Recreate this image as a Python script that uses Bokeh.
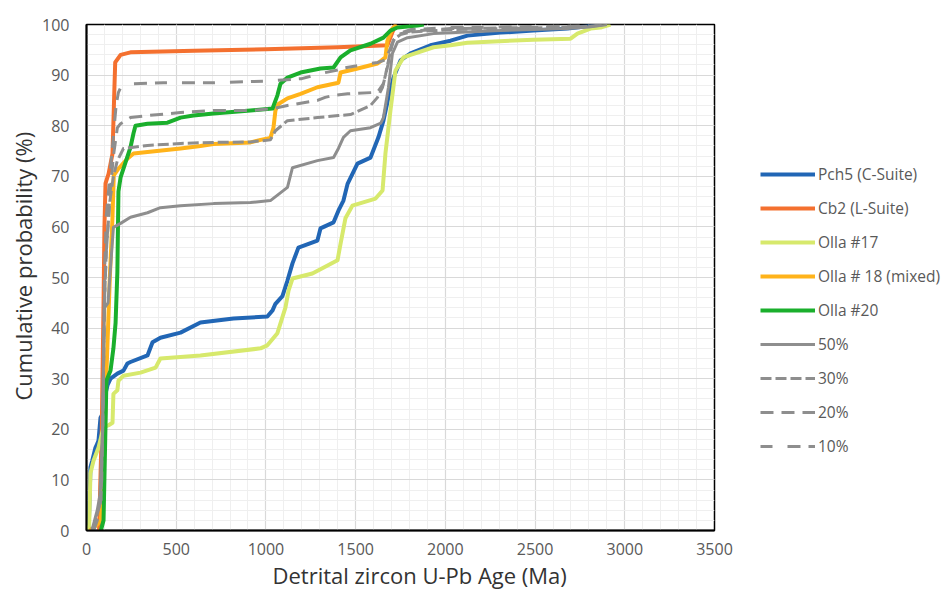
import math
from bokeh.plotting import figure
from bokeh.layouts import row
from bokeh.models import (SingleIntervalTicker, Range1d, Legend, LegendItem, Title, ColumnDataSource)
from bokeh.embed import file_html
from bokeh.resources import INLINE

# ---------------- data ----------------
pch5_age = [12, 22, 32, 50, 61, 67, 78, 89, 97, 117, 134, 172, 206, 228, 245, 340, 368, 412, 524, 635, 819,
            1008, 1037, 1053, 1092, 1120, 1148, 1181, 1287, 1304, 1377, 1404, 1432, 1455, 1510, 1583, 1627,
            1655, 1683, 1711, 1750, 1806, 1917, 2029, 2123, 2307, 2491, 2681, 2826, 2850]
pch5_pct = [0, 12.5, 13.8, 16.4, 17.2, 17.8, 22.3, 23, 25.7, 28.7, 30, 31, 31.6, 33, 33.3, 34.6, 37.2, 38.1,
            39.1, 41.1, 41.9, 42.3, 43.5, 44.8, 46.3, 49.4, 52.8, 55.9, 57.3, 59.7, 60.9, 63.2, 65.2, 68.5,
            72.5, 73.7, 77.7, 81, 85.6, 89.5, 92.9, 94.3, 95.9, 96.8, 97.8, 98.4, 98.8, 99.2, 99.8, 100]

cb2_age = [70, 85, 95, 100, 106, 123, 145, 156, 160, 190, 245, 600, 1000, 1400, 1677, 1700, 1722]
cb2_pct = [0, 20, 45, 60, 68.6, 70.5, 74.5, 88, 92.5, 94, 94.5, 94.8, 95.1, 95.5, 95.9, 98, 100]

olla17_age = [5, 15, 22, 39, 67, 95, 123, 145, 150, 172, 178, 206, 301, 385, 412, 635, 970, 1008, 1064, 1109,
              1126, 1148, 1259, 1399, 1416, 1443, 1482, 1611, 1650, 1666, 1694, 1722, 1767, 1806, 1934, 2029,
              2123, 2491, 2698, 2736, 2809, 2865, 2920]
olla17_pct = [0, 1, 11.3, 13.8, 16.4, 20.4, 20.8, 21.3, 27, 27.7, 29.6, 30.6, 31.2, 32.2, 34, 34.6, 36, 36.6,
              39, 44.1, 47.4, 49.8, 50.8, 53.4, 56.7, 61.7, 64.2, 65.6, 67.2, 74.5, 83, 90.9, 93.5, 94, 95.5,
              95.9, 96.4, 97, 97.2, 98.2, 99.2, 99.4, 100]

olla18_age = [20, 40, 60, 80, 95, 110, 130, 145, 152, 178, 228, 262, 340, 524, 635, 708, 914, 970, 1025, 1042,
              1053, 1070, 1120, 1193, 1287, 1404, 1416, 1500, 1622, 1666, 1677, 1705, 1730]
olla18_pct = [0, 0.6, 1.2, 2, 10, 30, 50, 62, 70.2, 71.5, 73.5, 74.5, 74.8, 75.5, 76, 76.4, 76.7, 77.2, 77.6,
              79.6, 83, 84.3, 85.4, 86.3, 87.6, 88.5, 90.5, 91.2, 92.3, 93.5, 96.8, 99.2, 100]

olla20_age = [80, 95, 111, 134, 150, 162, 172, 178, 190, 245, 262, 273, 340, 451, 524, 596, 708, 914, 1037,
              1064, 1081, 1120, 1193, 1304, 1377, 1416, 1471, 1583, 1655, 1694, 1733, 1845, 1880]
olla20_pct = [0, 2, 29.6, 31.6, 36, 41, 51, 67, 69.8, 75.7, 78.5, 80, 80.4, 80.6, 81.6, 82, 82.4, 83, 83.4,
              86, 88.3, 89.5, 90.5, 91.3, 91.5, 93.5, 94.9, 96.2, 97.4, 98.8, 99.4, 99.8, 100]

mix50_age = [30, 45, 60, 75, 90, 95, 100, 120, 140, 150, 190, 245, 340, 412, 524, 708, 914, 1025, 1120, 1148,
             1287, 1377, 1404, 1432, 1471, 1583, 1640, 1655, 1683, 1705, 1733, 1789, 1934, 2307, 2681, 2800, 2900]
mix50_pct = [0, 2, 4, 7, 20, 35, 44, 45, 55, 59.9, 60.7, 61.9, 62.8, 63.8, 64.2, 64.6, 64.8, 65.2, 67.8, 71.7,
             73.1, 73.7, 75.5, 77.7, 79, 79.6, 80.5, 81.6, 87.6, 94.3, 96.5, 97.4, 98.2, 98.8, 99.2, 99.5, 100]

mix30_age = [35, 50, 65, 80, 90, 100, 110, 130, 150, 172, 206, 340, 524, 708, 914, 1025, 1053, 1120, 1287, 1404,
             1471, 1583, 1622, 1650, 1666, 1690, 1711, 1750, 1806, 2029, 2491, 2800, 2900]
mix30_pct = [0, 2, 4, 6, 20, 45, 55, 65, 70, 73.1, 75.5, 76.1, 76.5, 76.7, 76.8, 77.2, 79, 81, 81.6, 82,
             82.2, 84, 85.6, 87.6, 90, 94, 97, 98, 98.5, 99, 99.3, 99.6, 100]

mix20_age = [35, 50, 65, 80, 90, 100, 110, 130, 150, 172, 190, 245, 340, 524, 708, 914, 1042, 1120, 1287, 1330,
             1377, 1455, 1622, 1655, 1680, 1700, 1730, 1806, 2029, 2491, 2800, 2900]
mix20_pct = [0, 2, 4, 6, 20, 45, 55, 66, 74, 79.6, 80.4, 81.6, 82, 82.6, 83, 83, 83.4, 84, 85, 85.6,
             86, 86.3, 86.6, 88.3, 92, 96, 98, 98.7, 99.2, 99.4, 99.7, 100]

mix10_age = [40, 60, 75, 85, 95, 100, 110, 130, 150, 165, 178, 190, 256, 429, 708, 1000, 1200, 1290, 1400, 1416,
             1500, 1622, 1666, 1690, 1720, 1750, 1806, 2029, 2491, 2800, 2900]
mix10_pct = [0, 2, 4, 10, 30, 50, 62, 70, 78, 84, 86.6, 87.5, 88.3, 88.5, 88.5, 88.8, 89.3, 90.2, 91, 91.3,
             91.8, 92.5, 93, 95, 97.4, 98.3, 99, 99.4, 99.6, 99.8, 100]

series_names = ["Pch5 (C-Suite)", "Cb2 (L-Suite)", "Olla #17", "Olla # 18 (mixed)", "Olla #20",
                "50%", "30%", "20%", "10%"]
x_title = "Detrital zircon U-Pb Age (Ma)"
y_title = "Cumulative probability (%)"

# ---------------- styles ----------------
styles = [
    dict(color="#2166B5", width=4, dash="solid"),
    dict(color="#F4702F", width=4, dash="solid"),
    dict(color="#D7E96C", width=4, dash="solid"),
    dict(color="#FFB31A", width=4, dash="solid"),
    dict(color="#1AAF2C", width=4, dash="solid"),
    dict(color="#8E8E8E", width=3, dash="solid"),
    dict(color="#8E8E8E", width=3, dash="11 4"),
    dict(color="#8E8E8E", width=3, dash="13 8"),
    dict(color="#8E8E8E", width=3, dash="12 15 13 8"),
]
data = [(pch5_age, pch5_pct), (cb2_age, cb2_pct), (olla17_age, olla17_pct), (olla18_age, olla18_pct),
        (olla20_age, olla20_pct), (mix50_age, mix50_pct), (mix30_age, mix30_pct), (mix20_age, mix20_pct),
        (mix10_age, mix10_pct)]
sources = [ColumnDataSource(dict(age=xs, pct=ys)) for xs, ys in data]

MAIN_W = 734
p = figure(width=MAIN_W, height=594, output_backend="svg", toolbar_location=None,
           x_range=Range1d(0, 3500), y_range=Range1d(0, 100),
           min_border_left=86, min_border_right=MAIN_W - 714, min_border_top=24, min_border_bottom=64)
p.background_fill_color = "white"
p.border_fill_color = "white"
p.outline_line_color = "black"
p.outline_line_width = 1.5

p.xaxis.ticker = SingleIntervalTicker(interval=500, num_minor_ticks=5)
p.yaxis.ticker = SingleIntervalTicker(interval=10, num_minor_ticks=5)
for ax in (p.xaxis, p.yaxis):
    ax.axis_line_color = "black"
    ax.axis_line_width = 2
    ax.major_tick_out = 0
    ax.major_tick_in = 0
    ax.minor_tick_out = 0
    ax.minor_tick_in = 0
    ax.major_label_text_font = "Open Sans"
    ax.major_label_text_font_size = "16px"
    ax.major_label_text_color = "#595959"
p.xaxis.major_label_standoff = 12
p.yaxis.major_label_standoff = 17

for g in (p.xgrid, p.ygrid):
    g.grid_line_color = "#D9D9D9"
    g.grid_line_width = 1.2
    g.minor_grid_line_color = "#EFEFEF"
    g.minor_grid_line_width = 1

for src, st in zip(sources, styles):
    p.line("age", "pct", source=src, line_color=st["color"], line_width=st["width"],
           line_dash=st["dash"], line_join="round", line_cap="butt")

# axis titles as Title annotations, positioned like the reference
p.add_layout(Title(text=x_title, align="left", offset=186, standoff=0, text_font="Open Sans",
                   text_font_size="22px", text_font_style="normal", text_color="#333333"), "below")
p.add_layout(Title(text=y_title, align="left", offset=130, standoff=4, text_font="Open Sans",
                   text_font_size="22px", text_font_style="normal", text_color="#333333"), "left")

# ---------------- legend panel (separate figure to the right) ----------------
# same series drawn again, with ranges that keep them out of view: only the legend shows
p2 = figure(width=948 - MAIN_W, height=594, output_backend="svg", toolbar_location=None,
            x_range=Range1d(-20, -10), y_range=Range1d(-20, -10),
            x_axis_location=None, y_axis_location=None,
            min_border_left=0, min_border_right=0, min_border_top=0, min_border_bottom=0)
p2.outline_line_color = None
p2.xgrid.visible = False
p2.ygrid.visible = False
p2.background_fill_color = "white"
p2.border_fill_color = "white"

items = []
for name, src, st in zip(series_names, sources, styles):
    r2 = p2.line("age", "pct", source=src, line_color=st["color"], line_width=st["width"],
                 line_dash=st["dash"])
    items.append(LegendItem(label=name, renderers=[r2]))

legend = Legend(items=items, location=(26, 73), orientation="vertical",
                glyph_width=55, glyph_height=22, label_height=22, spacing=12,
                padding=0, margin=0, label_standoff=3,
                label_text_font="Open Sans", label_text_font_size="15.5px",
                label_text_color="#595959",
                border_line_alpha=0, background_fill_alpha=0)
p2.add_layout(legend, "center")

layout = row(p, p2)
open("out.html", "w").write(file_html(layout, INLINE))
